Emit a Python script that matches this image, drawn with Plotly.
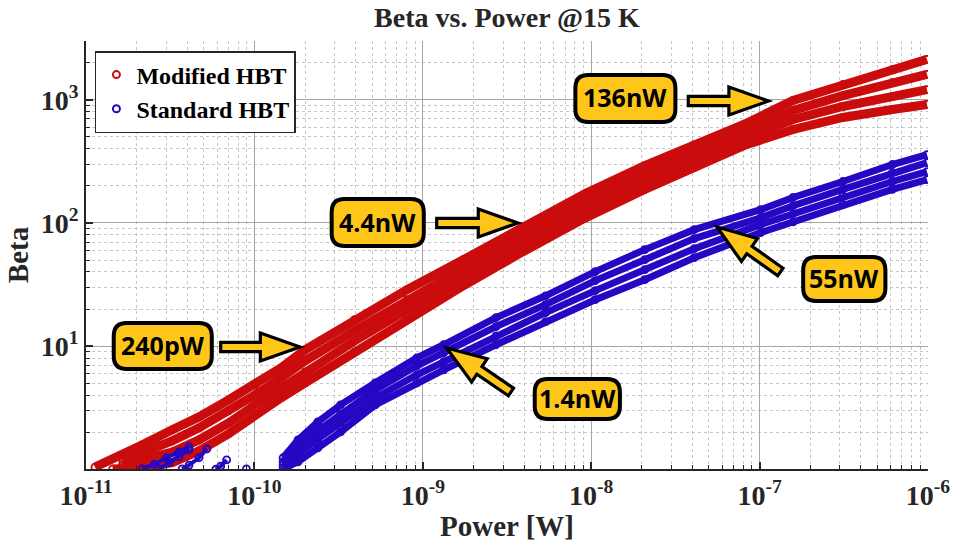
import math
import plotly.graph_objects as go

# ---------------- data ----------------
# Modified HBT: several overlapping sweeps forming the red band
mod_p_a = [1.13e-11, 1.65e-11, 2.16e-11, 3.25e-11, 4.69e-11, 7.03e-11, 1.01e-10, 1.44e-10, 2.0e-10, 3.93e-10,
           8.06e-10, 1.74e-9, 3.93e-9, 9.23e-9, 2.08e-8, 4.09e-8, 8.06e-8, 1.58e-7, 3.12e-7, 6.14e-7, 9.86e-7]
mod_b_a = [1.04, 1.31, 1.58, 2.09, 2.66, 3.66, 4.85, 6.66, 9.33, 16.4,
           28.7, 50.3, 93.3, 173, 292, 433, 630, 987, 1330, 1760, 2130]
mod_p_b = [1.65e-11, 2.16e-11, 3.25e-11, 4.69e-11, 7.03e-11, 1.01e-10, 1.44e-10, 2.0e-10, 3.93e-10,
           8.06e-10, 1.74e-9, 3.93e-9, 9.23e-9, 2.08e-8, 4.09e-8, 8.06e-8, 1.58e-7, 3.12e-7, 6.14e-7, 9.86e-7]
mod_b_b = [1.19, 1.36, 1.70, 2.17, 2.98, 4.02, 5.53, 7.59, 13.3,
           23.8, 42.5, 80.3, 149, 252, 373, 553, 819, 1080, 1380, 1610]
mod_p_c = [1.65e-11, 2.16e-11, 3.25e-11, 4.69e-11, 7.03e-11, 1.01e-10, 1.44e-10, 2.0e-10, 3.93e-10,
           8.06e-10, 1.74e-9, 3.93e-9, 9.23e-9, 2.08e-8, 4.09e-8, 8.06e-8, 1.58e-7, 3.12e-7, 6.14e-7, 9.86e-7]
mod_b_c = [1.10, 1.19, 1.38, 1.73, 2.38, 3.33, 4.58, 6.18, 11.0,
           19.7, 36.6, 67.9, 128, 217, 327, 485, 692, 882, 1060, 1210]
mod_p_d = [1.44e-11, 1.65e-11, 2.16e-11, 3.25e-11, 4.69e-11, 7.03e-11, 1.01e-10, 1.44e-10, 2.0e-10, 3.93e-10,
           8.06e-10, 1.74e-9, 3.93e-9, 9.23e-9, 2.08e-8, 4.09e-8, 8.06e-8, 1.58e-7, 3.12e-7, 6.14e-7, 9.86e-7]
mod_b_d = [1.006, 1.01, 1.03, 1.13, 1.41, 1.94, 2.76, 3.80, 5.03, 8.99,
           16.4, 30.9, 58.4, 110, 187, 282, 425, 574, 718, 834, 916]

# Standard HBT: main band sweeps
std_p = [1.48e-10, 1.815e-10, 2.38e-10, 3.25e-10, 5.22e-10, 9.22e-10, 1.33e-9, 2.72e-9, 5.36e-9,
         1.056e-8, 2.08e-8, 4.09e-8, 1.014e-7, 1.58e-7, 3.12e-7, 6.14e-7, 9.86e-7]
std_b_a = [1.24, 1.73, 2.42, 3.33, 5.03, 8.03, 10.25, 17.0, 25.6, 40.2, 60.7, 88.2, 128, 161, 217, 298, 359]
std_b_b = [1.15, 1.52, 2.05, 2.82, 4.41, 6.92, 8.82, 14.4, 21.7, 34.0, 50.3, 74.6, 110, 138, 187, 256, 309]
std_b_c = [1.08, 1.31, 1.76, 2.38, 3.80, 5.85, 7.46, 12.1, 18.7, 28.2, 41.7, 61.8, 96.9, 119, 164, 217, 261]
std_b_d = [1.006, 1.15, 1.49, 2.01, 3.33, 5.03, 6.42, 10.25, 15.8, 23.8, 34.6, 52.2, 83.4, 102, 141, 187, 225]
# Standard HBT: short low-power fragments
std_frag_p = [[2.16e-11, 2.55e-11, 3.0e-11, 3.57e-11, 4.09e-11],
              [2.72e-11, 3.12e-11, 3.57e-11, 4.09e-11],
              [3.72e-11, 4.09e-11, 4.69e-11, 5.22e-11],
              [5.9e-11, 6.31e-11, 6.84e-11],
              [8.97e-11]]
std_frag_b = [[1.006, 1.10, 1.24, 1.38, 1.52],
              [1.006, 1.13, 1.26, 1.44],
              [1.006, 1.08, 1.24, 1.46],
              [1.0, 1.06, 1.19],
              [1.006]]

series_names = ["Modified HBT", "Standard HBT"]
x_tick_vals = [1e-11, 1e-10, 1e-9, 1e-8, 1e-7, 1e-6]
x_tick_text = ["10<sup>-11</sup>", "10<sup>-10</sup>", "10<sup>-9</sup>", "10<sup>-8</sup>",
               "10<sup>-7</sup>", "10<sup>-6</sup>"]
y_tick_vals = [10, 100, 1000]
y_tick_text = ["10<sup>1</sup>", "10<sup>2</sup>", "10<sup>3</sup>"]

RED = "#CB0C0C"
BLUE = "#2408C4"

# ---------------- figure ----------------
W, H = 962, 550
ML, MR, MT, MB = 86, 26, 41, 81
PW = W - ML - MR
PH = H - MT - MB

fig = go.Figure()

# legend-only entries
for name, col in zip(series_names, [RED, BLUE]):
    fig.add_trace(go.Scatter(x=[None], y=[None], mode="markers", name=name,
                             marker=dict(symbol="circle-open", size=7, color=col, line=dict(width=2, color=col))))


def sweep(p, b, col, lw):
    fig.add_trace(go.Scatter(x=p, y=b, mode="lines+markers", showlegend=False, hoverinfo="skip",
                             line=dict(color=col, width=lw),
                             marker=dict(symbol="circle-open", size=7, color=col, line=dict(width=1.8, color=col))))


for p, b in [(mod_p_a, mod_b_a), (mod_p_b, mod_b_b), (mod_p_c, mod_b_c), (mod_p_d, mod_b_d)]:
    sweep(p, b, RED, 9)
for b in [std_b_a, std_b_b, std_b_c, std_b_d]:
    sweep(std_p, b, BLUE, 7)
for p, b in zip(std_frag_p, std_frag_b):
    sweep(p, b, BLUE, 4)


# ---------------- callouts (layout decoration, pixel geometry) ----------------
def P(x, y):
    return f"{(x - ML) / PW:.5f},{(H - MB - y) / PH:.5f}"


def rounded_box(x0, y0, x1, y1, r):
    return (f"M {P(x0 + r, y0)} L {P(x1 - r, y0)} Q {P(x1, y0)} {P(x1, y0 + r)} "
            f"L {P(x1, y1 - r)} Q {P(x1, y1)} {P(x1 - r, y1)} "
            f"L {P(x0 + r, y1)} Q {P(x0, y1)} {P(x0, y1 - r)} "
            f"L {P(x0, y0 + r)} Q {P(x0, y0)} {P(x0 + r, y0)} Z")


def block_arrow(tx, ty, hx, hy, w=4.6, hw=14.0, hl=40.0):
    L = math.hypot(hx - tx, hy - ty)
    ux, uy = (hx - tx) / L, (hy - ty) / L
    nx, ny = -uy, ux
    bx, by = hx - ux * hl, hy - uy * hl
    pts = [(tx + nx * w, ty + ny * w), (bx + nx * w, by + ny * w), (bx + nx * hw, by + ny * hw),
           (hx, hy), (bx - nx * hw, by - ny * hw), (bx - nx * w, by - ny * w), (tx - nx * w, ty - ny * w)]
    return "M " + " L ".join(P(a, b) for a, b in pts) + " Z"


YEL = "#FFC61A"
callouts = [
    ("240pW", (114, 323, 213, 369), (222, 347, 302, 347)),
    ("4.4nW", (334, 199, 427, 246), (440, 223, 522, 223)),
    ("136nW", (580, 75, 681, 122), (694, 101, 775, 101)),
    ("1.4nW", (539, 379, 625, 419), (515, 392, 450, 348)),
    ("55nW", (810, 257, 893, 301), (787, 272, 723, 227)),
]
shapes = []
annos = []
for text, (x0, y0, x1, y1), (tx, ty, hx, hy) in callouts:
    shapes.append(dict(type="path", xref="paper", yref="paper", path=rounded_box(x0, y0, x1, y1, 13),
                       fillcolor=YEL, line=dict(color="black", width=4), layer="above"))
    shapes.append(dict(type="path", xref="paper", yref="paper", path=block_arrow(tx, ty, hx, hy),
                       fillcolor=YEL, line=dict(color="black", width=3.2), layer="above"))
    annos.append(dict(xref="paper", yref="paper", x=((x0 + x1) / 2 - ML) / PW, y=(H - MB - (y0 + y1) / 2 + 1) / PH,
                      text=f"<b>{text}</b>", showarrow=False, xanchor="center", yanchor="middle",
                      font=dict(family="Open Sans", size=25, color="black")))

AX = "#262626"
serif_b = dict(family="Liberation Serif", color=AX, weight="bold")

x_minor = [k * 10.0 ** e for e in range(-11, -6) for k in range(2, 10)]
y_minor = [v for v in (k * 10.0 ** e for e in range(0, 4) for k in range(2, 10)) if v <= 3000]

common_axis = dict(type="log", tickmode="array",
                   ticks="inside", ticklen=7, tickwidth=1.5, tickcolor=AX,
                   showline=True, linecolor=AX, linewidth=1.8, mirror=False, zeroline=False,
                   showgrid=True, gridcolor="#A6A6A6", gridwidth=1.2,
                   tickfont=dict(size=28, **serif_b))
minor_style = dict(ticks="inside", ticklen=4, tickwidth=1, tickcolor=AX, tickmode="array",
                   showgrid=True, gridcolor="#C6C6C6", griddash="dot", gridwidth=1)

fig.update_layout(
    width=W, height=H,
    margin=dict(l=ML, r=MR, t=MT, b=MB, pad=0),
    paper_bgcolor="white", plot_bgcolor="white",
    title=dict(text="Beta vs. Power @15 K", x=0.5, xref="paper", y=1 - 17 / H, yref="container",
               xanchor="center", yanchor="middle", font=dict(size=28, **serif_b)),
    xaxis=dict(range=[-11, -6], tickvals=x_tick_vals, ticktext=x_tick_text,
               minor=dict(tickvals=x_minor, **minor_style),
               title=dict(text="Power [W]", font=dict(size=29, **serif_b), standoff=4),
               **common_axis),
    yaxis=dict(range=[0.002, math.log10(3000)], tickvals=y_tick_vals, ticktext=y_tick_text,
               minor=dict(tickvals=y_minor, **minor_style),
               title=dict(text="Beta", font=dict(size=29, **serif_b), standoff=4),
               **common_axis),
    legend=dict(x=(95 - ML) / PW, y=(H - MB - 51) / PH, xanchor="left", yanchor="top",
                bgcolor="white", bordercolor=AX, borderwidth=1.5,
                font=dict(size=24, family="Liberation Serif", color="black", weight="bold"),
                tracegroupgap=0, itemwidth=30),
    shapes=shapes,
    annotations=annos,
    showlegend=True,
)

fig.write_html("out.html")
